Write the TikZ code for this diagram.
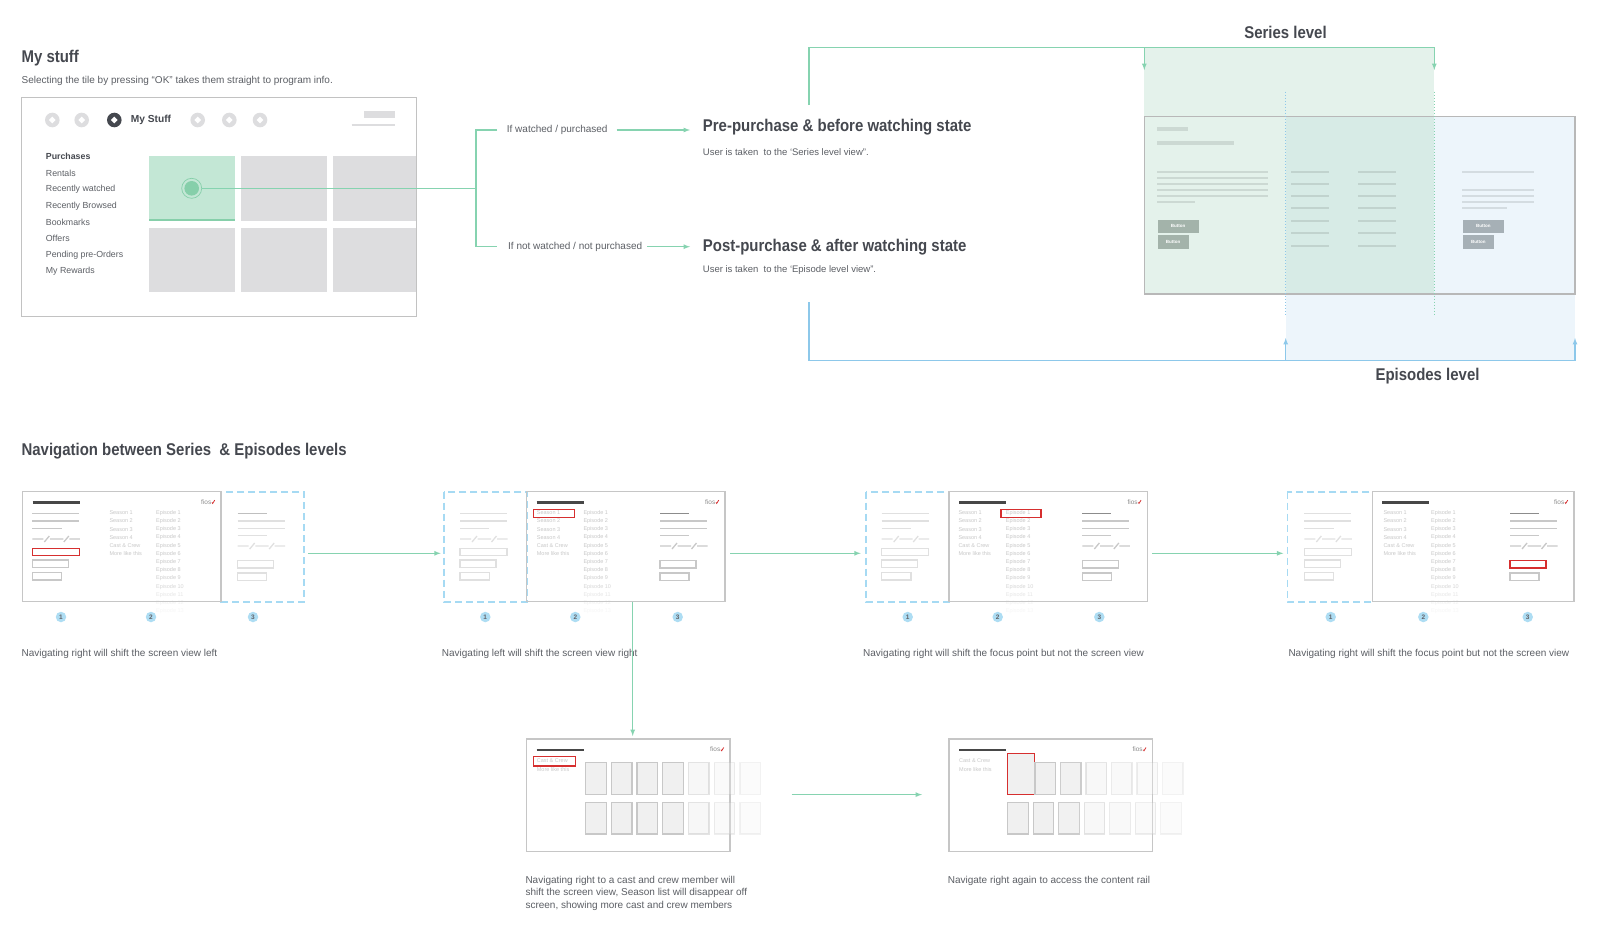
\documentclass[tikz,border=0pt]{standalone}
\usepackage{fontspec}
\setmainfont{Liberation Sans}
\newfontfamily\headfont[FakeStretch=0.88]{Liberation Sans}
\definecolor{ink}{HTML}{45484F}
\definecolor{txt}{HTML}{5C5F65}
\definecolor{flowg}{HTML}{86D3B0}
\definecolor{flowb}{HTML}{8DC8EA}
\definecolor{tilegray}{HTML}{DDDDDF}
\definecolor{framegray}{HTML}{C6C6C6}
\definecolor{wfgray}{HTML}{C8C8C8}
\definecolor{selgreen}{HTML}{C3E7D5}
\definecolor{seldot}{HTML}{86CFAA}
\definecolor{serfill}{HTML}{E4F2EB}
\definecolor{epfill}{HTML}{EDF5FB}
\definecolor{bothfill}{HTML}{D7EBE6}
\definecolor{dashblue}{HTML}{A6DAF3}
\definecolor{focusred}{HTML}{D62F2F}
\definecolor{numblue}{HTML}{AEDDF3}
\definecolor{btngreen}{HTML}{A3B3AA}
\definecolor{btnblue}{HTML}{A6B0B6}
\tikzstyle{heading} = [anchor=west, inner sep=0, text=ink, font=\headfont\fontsize{17}{20}\selectfont\bfseries]
\tikzstyle{bodytext} = [anchor=west, inner sep=0, text=txt, font=\fontsize{10}{12.3}\selectfont]
\tikzstyle{desctext} = [anchor=west, inner sep=0, text=txt, font=\fontsize{9.5}{11}\selectfont]
\tikzstyle{menuitem} = [anchor=west, inner sep=0, text=txt, font=\fontsize{8.8}{10}\selectfont]
\tikzstyle{wftext} = [anchor=west, inner sep=0, text=wfgray, font=\fontsize{5.5}{6}\selectfont]
\tikzstyle{logotext} = [anchor=east, inner sep=0, text=black!45, font=\fontsize{6.5}{7}\selectfont]
\tikzstyle{flowline} = [draw=flowg, line width=1.2]
\tikzstyle{flowep} = [draw=flowb, line width=1.2]
\tikzstyle{wfline} = [draw=wfgray, line width=1.3]
\tikzstyle{wfdark} = [draw=black!72, line width=2.6]
\tikzstyle{focusbox} = [draw=focusred, line width=1.5]
\tikzstyle{wfframe} = [draw=framegray, line width=1.5]
\tikzstyle{dashbox} = [draw=dashblue, line width=1.6, dash pattern=on 7pt off 4pt]
\tikzstyle{numdot} = [circle, fill=numblue, inner sep=0, minimum size=10.5, text=ink!85, font=\fontsize{6.5}{7}\selectfont\bfseries]
\tikzstyle{castile} = [draw=wfgray, line width=1.3, fill=black!6]
\tikzstyle{navdot} = [circle, fill=tilegray, inner sep=0, minimum size=14.6]
\tikzstyle{lvbar} = [fill=black, fill opacity=0.1]
\tikzstyle{lvbutton} = [anchor=north west, fill=btngreen, minimum height=13.4, inner sep=0, text=white, font=\fontsize{4.5}{5}\selectfont\bfseries]
\newcommand{\wfslash}[2]{\draw[wfline] (#1,#2) -- ++(11,0) (#1+12,#2+3) -- ++(5,-6) (#1+17.7,#2) -- ++(13.3,0) (#1+31.5,#2+3) -- ++(5,-6) (#1+37,#2) -- ++(10.5,0);}
\newcommand{\wfleft}[3]{%
  \begin{scope}[opacity=#2]
    \draw[wfline] (#1,513.3) -- ++(47,0) (#1,521) -- ++(47,0) (#1,528.3) -- ++(29.4,0);
    \wfslash{#1}{539}
    \draw[#3] (#1,548.3) rectangle ++(47,7.4);
    \draw[wfline] (#1,560) rectangle ++(36,7.7) (#1,572.3) rectangle ++(29.4,7.7);
  \end{scope}}
\newcommand{\wfright}[3]{%
  \begin{scope}[opacity=#2]
    \draw[wfline, draw=black!45] (#1,513.3) -- ++(29,0);
    \draw[wfline] (#1,521) -- ++(47,0) (#1,528.3) -- ++(47,0) (#1,535.7) -- ++(29,0);
    \wfslash{#1}{546}
    \draw[#3] (#1,560.7) rectangle ++(36,7.3);
    \draw[wfline] (#1,573) rectangle ++(29,7.3);
  \end{scope}}
\newcommand{\wflists}[3]{%
  \foreach \t [count=\i] in {Season 1,Season 2,Season 3,Season 4,Cast \& Crew,More like this}
    \node (#3s\i) at (#1,504.6+8.2*\i) [wftext] {\t};
  \foreach \i/\o in {1/1,2/1,3/1,4/1,5/1,6/1,7/1,8/1,9/0.9,10/0.75,11/0.45,12/0.25,13/0.15}
    \node (#3e\i) at (#2,504.6+8.2*\i) [wftext, opacity=\o] {Episode \i};}
\newcommand{\wfchrome}[5]{%
  \draw[wfframe] (#1,#3) rectangle (#2,#4);
  \draw[wfdark] (#1+10,#3+11) -- (#1+57,#3+11);
  \node (#5) at (#2-9.5,#3+10.5) [logotext] {fios};
  \draw[focusred, line width=0.8] (#5.east) ++(0.4,0.3) -- ++(0.8,0.9) -- ++(2,-3.2);}

\begin{document}
\begin{tikzpicture}[x=1pt, y=-1pt, >=latex]
  \useasboundingbox (0,0) rectangle (1600,935);
  \fill[white] (0,0) rectangle (1600,935);

  \node (mystuffhead) at (21.4,58.5) [heading] {My stuff};
  \node (mystuffsub) at (21.4,80.5) [bodytext] {Selecting the tile by pressing “OK” takes them straight to program info.};
  \fill[selgreen] (149,156) rectangle (235,220.5);
  \fill[seldot] (149,218.5) rectangle (235,220.5);
  \fill[tilegray] (241,156) rectangle (327,220.5);
  \fill[tilegray] (333.3,156) rectangle (416.7,220.5);
  \fill[tilegray] (149,228.3) rectangle (235,292.3);
  \fill[tilegray] (241,228.3) rectangle (327,292.3);
  \fill[tilegray] (333.3,228.3) rectangle (416.7,292.3);
  \draw[wfframe, draw=black!24] (21.7,97.3) rectangle (416.7,316.7);
  \foreach \x/\n in {52.3/a,81.7/b,197.7/d,229.3/e,260/f}
    \node (nav\n) at (\x,120) [navdot] {};
  \node (navc) at (114.3,120) [navdot, fill=ink] {};
  \foreach \n in {a,b,c,d,e,f}
    \fill[white] (nav\n) +(0,-3.4) -- +(3.4,0) -- +(0,3.4) -- +(-3.4,0) -- cycle;
  \node (navlabel) at (130.7,120) [anchor=west, inner sep=0, text=ink, font=\fontsize{10.2}{12}\selectfont\bfseries] {My Stuff};
  \fill[tilegray] (364,110.7) rectangle (395,117.7);
  \draw[tilegray, line width=1.2] (351.7,125) -- (395,125);
  \node (purchases) at (45.7,156.7) [menuitem, text=ink, font=\fontsize{8.8}{10}\selectfont\bfseries] {Purchases};
  \foreach \t/\y [count=\i] in {Rentals/173.7,Recently watched/189.7,Recently Browsed/206.3,Bookmarks/222.7,Offers/238.7,Pending pre-Orders/255.7,My Rewards/271.7}
    \node (menu\i) at (45.7,\y) [menuitem] {\t};
  \node (sel) at (191.7,188.3) [circle, fill=seldot, inner sep=0, minimum size=14.6] {};
  \draw[seldot, line width=0.7] (sel) circle (10);

  \coordinate (fork) at (476,188.3);
  \coordinate (forktop) at (497,130);
  \coordinate (forkbot) at (497,246.7);
  \draw[flowline, shorten <=2.7pt] (sel) -- (fork);
  \draw[flowline] (forktop) -| (fork) |- (forkbot);
  \node (ifwatched) at (506.7,130) [bodytext] {If watched / purchased};
  \node (ifnot) at (508,246.7) [bodytext] {If not watched / not purchased};
  \node (pre) at (702.7,127) [heading] {Pre-purchase \& before watching state};
  \node (predesc) at (702.7,151.7) [desctext] {User is taken~ to the ‘Series level view”.};
  \node (post) at (702.7,246.7) [heading] {Post-purchase \& after watching state};
  \node (postdesc) at (702.7,270) [desctext] {User is taken~ to the ‘Episode level view”.};
  \draw[flowline, ->, shorten <=9pt, shorten >=12.7pt] (ifwatched.east) -- (ifwatched.east -| pre.west);
  \draw[flowline, ->, shorten <=5pt, shorten >=12.7pt] (ifnot.east) -- (ifnot.east -| post.west);

  \fill[serfill] (1144.3,47.3) rectangle (1434.3,294);
  \fill[epfill] (1285.7,116.7) rectangle (1575,360.7);
  \fill[bothfill] (1285.7,116.7) rectangle (1434.3,294);
  \fill[lvbar] (1157.3,126.5) rectangle (1188.3,130.5);
  \fill[lvbar] (1157.3,140.7) rectangle (1234,144.7);
  \foreach \y in {171.7,177.7,183.7,190,196}
    \fill[lvbar] (1157.3,\y-1) rectangle (1268.3,\y+1);
  \fill[lvbar] (1157.3,201) rectangle (1195,203);
  \foreach \y in {171.7,183.7,196,208,220.7,233.3,246} {
    \fill[lvbar] (1291,\y-1) rectangle (1329,\y+1);
    \fill[lvbar] (1357.7,\y-1) rectangle (1395.7,\y+1);
  }
  \fill[lvbar] (1462,170.7) rectangle (1534.3,172.7);
  \foreach \y in {190,196,202}
    \fill[lvbar] (1462,\y-1) rectangle (1534.3,\y+1);
  \fill[lvbar] (1462,207) rectangle (1507.3,209);
  \node (btna) at (1157.3,219.3) [lvbutton, minimum width=41] {Button};
  \node (btnb) at (1157.3,235) [lvbutton, minimum width=31] {Button};
  \node (btnc) at (1462.7,219.3) [lvbutton, fill=btnblue, minimum width=41] {Button};
  \node (btnd) at (1462.7,235) [lvbutton, fill=btnblue, minimum width=31] {Button};
  \draw[draw=black!28, line width=1.2] (1144.3,116.7) rectangle (1575,294);
  \draw[flowep, line width=1.4, dash pattern=on 1.5pt off 1.5pt] (1285.7,91.7) -- (1285.7,316.7);
  \draw[flowline, line width=1.4, dash pattern=on 1.5pt off 1.5pt] (1434.3,91.7) -- (1434.3,316.7);
  \node (serieslevel) at (1285.5,32.7) [heading, anchor=center] {Series level};
  \node (episodeslevel) at (1427.5,376) [heading, anchor=center] {Episodes level};
  \coordinate (pretop) at (809,105);
  \coordinate (sercorner) at (1434.3,47.3);
  \coordinate (serl) at (1144.3,70);
  \coordinate (serr) at (1434.3,70);
  \draw[flowline] (pretop) |- (sercorner);
  \draw[flowline, ->] (sercorner) -- (serr);
  \draw[flowline, ->] (serl |- sercorner) -- (serl);
  \coordinate (postbot) at (809,302);
  \coordinate (epcorner) at (1575,360.7);
  \coordinate (epl) at (1285.7,338);
  \coordinate (epr) at (1575,338);
  \draw[flowep] (postbot) |- (epcorner);
  \draw[flowep, ->] (epcorner) -- (epr);
  \draw[flowep, ->] (epl |- epcorner) -- (epl);

  \node (navhead) at (21.4,451.5) [heading] {Navigation between Series~ \& Episodes levels};
  \draw[dashbox] (221,491.7) rectangle (304,601.7);
  \wfleft{32.3}{1}{focusbox}
  \wflists{109.3}{156}{a}
  \wfright{237.7}{0.55}{wfline}
  \wfchrome{22.7}{221}{491.7}{601.7}{logoa}
  \draw[dashbox] (444,491.7) rectangle (526.7,601.7);
  \wfleft{460}{0.55}{wfline}
  \wflists{536.7}{583.3}{b}
  \draw[focusbox] (533.3,509.3) rectangle (574.3,517.7);
  \wfright{660}{1}{wfline}
  \wfchrome{526.7}{725}{491.7}{601.7}{logob}
  \draw[dashbox] (866,491.7) rectangle (949,601.7);
  \wfleft{881.7}{0.55}{wfline}
  \wflists{958.3}{1005.7}{c}
  \draw[focusbox] (1001,509.3) rectangle (1041,517.7);
  \wfright{1082.3}{1}{wfline}
  \wfchrome{949}{1147.3}{491.7}{601.7}{logoc}
  \draw[dashbox] (1287.3,491.7) rectangle (1372.3,601.7);
  \wfleft{1304.3}{0.55}{wfline}
  \wflists{1383.3}{1431}{d}
  \wfright{1510}{1}{focusbox}
  \wfchrome{1372.3}{1574}{491.7}{601.7}{logod}
  \foreach \x/\k [count=\i] in {61/1,151/2,253/3,485.3/1,575.3/2,677.7/3,907.7/1,997.7/2,1099.3/3,1330.7/1,1423.3/2,1527.7/3}
    \node (num\i) at (\x,617) [numdot] {\k};
  \node (capa) at (21.4,654) [bodytext] {Navigating right will shift the screen view left};
  \node (capb) at (441.7,654) [bodytext] {Navigating left will shift the screen view right};
  \node (capc) at (863,654) [bodytext] {Navigating right will shift the focus point but not the screen view};
  \node (capd) at (1288.3,654) [bodytext] {Navigating right will shift the focus point but not the screen view};

  \wfchrome{526.7}{730}{739}{851.7}{logoe}
  \node (castae) at (536.7,761) [wftext] {Cast \& Crew};
  \node (castam) at (536.7,769.3) [wftext] {More like this};
  \draw[focusbox] (533.3,756.7) rectangle (575.7,766);
  \foreach \k/\o in {0/1,1/1,2/1,3/1,4/0.5,5/0.3,6/0.22} {
    \draw[castile, opacity=\o] (585.7+25.7*\k,762.7) rectangle ++(20.5,31.6);
    \draw[castile, opacity=\o] (585.7+25.7*\k,802.7) rectangle ++(20.5,31.3);
  }
  \wfchrome{949}{1152.3}{739}{851.7}{logof}
  \node (castbc) at (959,761) [wftext] {Cast \& Crew};
  \node (castbm) at (959,769.3) [wftext] {More like this};
  \draw[focusbox, fill=black!6] (1007.7,753.3) rectangle (1034.3,794.3);
  \foreach \k/\o in {0/1,1/0.9,2/0.45,3/0.35,4/0.3,5/0.22}
    \draw[castile, opacity=\o] (1035+25.5*\k,762.7) rectangle ++(20.5,31.6);
  \foreach \k/\o in {0/1,1/1,2/0.9,3/0.45,4/0.35,5/0.3,6/0.22}
    \draw[castile, opacity=\o] (1007.7+25.5*\k,802.7) rectangle ++(20.6,31.3);
  \node (cape) at (525.3,876) [bodytext, anchor=north west, align=left] {Navigating right to a cast and crew member will\\shift the screen view, Season list will disappear off\\screen, showing more cast and crew members};
  \node (capf) at (947.6,881.3) [bodytext] {Navigate right again to access the content rail};

  \coordinate (sa) at (308,553.3);
  \coordinate (sb) at (440.7,553.3);
  \coordinate (sc) at (730,553.3);
  \coordinate (sd) at (860.7,553.3);
  \coordinate (se) at (1152,553.3);
  \coordinate (sf) at (1283.3,553.3);
  \coordinate (sg) at (632.7,601.7);
  \coordinate (sh) at (632.7,736);
  \coordinate (si) at (791.5,794.6);
  \coordinate (sj) at (922,794.6);
  \foreach \a/\b in {sa/sb,sc/sd,se/sf,sg/sh,si/sj}
    \draw[flowline, ->] (\a) -- (\b);
\end{tikzpicture}
\end{document}
